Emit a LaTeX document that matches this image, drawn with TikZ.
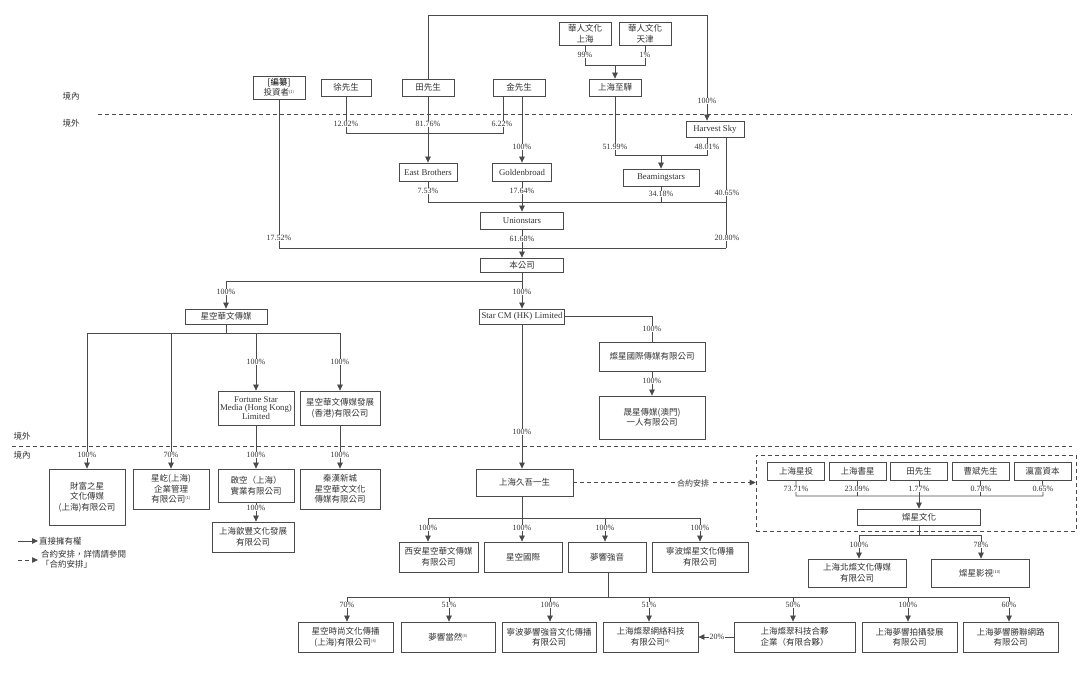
\documentclass[tikz,border=0pt]{standalone}
\usepackage{fontspec}
\setmainfont{Liberation Serif}
\newfontfamily\cjk{Noto Sans CJK TC}
\usetikzlibrary{arrows.meta}
\definecolor{lncol}{HTML}{4A4A4A}
\definecolor{txcol}{HTML}{333333}
\newcommand{\fnote}[1]{\textsuperscript{\fontsize{4}{4}\selectfont(#1)}}
\begin{document}
\begin{tikzpicture}[x=1pt,y=-1pt,
  bx/.style={draw=lncol, line width=0.8pt, text=txcol, align=center, inner sep=1pt,
    font=\cjk\fontsize{8.5}{10.5}\selectfont},
  en/.style={bx, font=\fontsize{8.8}{8.8}\selectfont},
  pc/.style={fill=white, text=txcol, inner sep=0.6pt, font=\fontsize{8}{8}\selectfont},
  rg/.style={text=txcol, inner sep=1pt, font=\cjk\fontsize{8.5}{10}\selectfont},
  wire/.style={draw=lncol, line width=0.75pt},
  ar/.style={wire, -{Triangle[length=6pt,width=5.5pt]}},
  da/.style={draw=lncol, line width=0.6pt, dash pattern=on 4pt off 3pt},
]
\fill[white] (0,0) rectangle (1080,686);

% ---------- region lines ----------
\draw[da] (98,114) -- (1072,114);
\draw[da] (12,446) -- (1072,446);
\node[rg] (rgA) at (71,96) {境內};
\node[rg] (rgB) at (71,123) {境外};
\node[rg] (rgC) at (22,436) {境外};
\node[rg] (rgD) at (22,455) {境內};

% ---------- top boxes ----------
\node[bx, minimum width=52, minimum height=23] (inv) at (279,87.5) {{\color{black}[編纂]}\\投資者\fnote{1}};
\node[bx, minimum width=50, minimum height=17] (xu) at (346,87.5) {徐先生};
\node[bx, minimum width=52, minimum height=17] (tian) at (428,87.5) {田先生};
\node[bx, minimum width=52, minimum height=17] (jin) at (519,87.5) {金先生};
\node[bx, minimum width=52, minimum height=23] (hrsh) at (585,33.5) {華人文化\\上海};
\node[bx, minimum width=52, minimum height=23] (hrtj) at (645,33.5) {華人文化\\天津};
\node[bx, minimum width=52, minimum height=17] (shzh) at (615,87.5) {上海至驊};
\node[en, minimum width=58, minimum height=16] (harvest) at (715,129) {Harvest Sky};
\node[en, minimum width=58, minimum height=18] (eastb) at (428,172) {East Brothers};
\node[en, minimum width=59, minimum height=18] (golden) at (522,172) {Goldenbroad};
\node[en, minimum width=76, minimum height=17] (beam) at (661,177.5) {Beamingstars};
\node[en, minimum width=83, minimum height=17] (union) at (522,220.5) {Unionstars};
\node[bx, minimum width=83, minimum height=14] (company) at (522,265) {本公司};

% ---------- offshore subsidiaries ----------
\node[bx, minimum width=82, minimum height=15] (xkhw) at (226,316.5) {星空華文傳媒};
\node[en, minimum width=85, minimum height=15] (starcm) at (522,316.5) {Star CM (HK) Limited};
\node[bx, minimum width=106, minimum height=29] (csintl) at (652,356.5) {燦星國際傳媒有限公司};
\node[bx, minimum width=106, minimum height=43] (sxmacau) at (652,417.5) {晟星傳媒(澳門)\\一人有限公司};
\node[en, minimum width=76, minimum height=34] (fortune) at (256,408) {Fortune Star\\Media (Hong Kong)\\Limited};
\node[bx, minimum width=80, minimum height=34] (xkhk) at (340,408) {星空華文傳媒發展\\(香港)有限公司};

% ---------- onshore, left ----------
\node[bx, minimum width=76, minimum height=56] (cfzx) at (87,497) {財富之星\\文化傳媒\\(上海)有限公司};
\node[bx, minimum width=76, minimum height=40] (xy) at (171,489) {星屹(上海)\\企業管理\\有限公司\fnote{1}};
\node[bx, minimum width=76, minimum height=33] (qk) at (256,485.5) {啟空（上海）\\實業有限公司};
\node[bx, minimum width=82, minimum height=30] (shxf) at (253,537) {上海歆豐文化發展\\有限公司};
\node[bx, minimum width=80, minimum height=40] (qhxc) at (340,489) {秦漢新城\\星空華文文化\\傳媒有限公司};

% ---------- onshore, centre ----------
\node[bx, minimum width=97, minimum height=27] (jiuwu) at (524.5,482.5) {上海久吾一生};
\node[bx, minimum width=79, minimum height=30] (xa) at (438.5,557) {西安星空華文傳媒\\有限公司};
\node[bx, minimum width=78, minimum height=30] (xkgj) at (523,557) {星空國際};
\node[bx, minimum width=78, minimum height=30] (mxqy) at (607,557) {夢響強音};
\node[bx, minimum width=96, minimum height=30] (nbcx) at (700,557) {寧波燦星文化傳播\\有限公司};

% ---------- bottom row ----------
\node[bx, minimum width=95, minimum height=30] (xs) at (345.5,637) {星空時尚文化傳播\\(上海)有限公司\fnote{4}};
\node[bx, minimum width=94, minimum height=30] (mxdr) at (448,637) {夢響當然\fnote{4}};
\node[bx, minimum width=94, minimum height=30] (nbmx) at (549,637) {寧波夢響強音文化傳播\\有限公司};
\node[bx, minimum width=95, minimum height=30] (shcc) at (650.5,637) {上海燦翠網絡科技\\有限公司\fnote{4}};
\node[bx, minimum width=121, minimum height=30] (hh) at (794.5,637) {上海燦翠科技合夥\\企業（有限合夥）};
\node[bx, minimum width=95, minimum height=30] (pp) at (909.5,637) {上海夢響拍攝發展\\有限公司};
\node[bx, minimum width=95, minimum height=30] (ms) at (1010.5,637) {上海夢響勝聯網路\\有限公司};

% ---------- VIE group ----------
\node[da, draw=lncol, minimum width=320, minimum height=76, inner sep=0] (grp) at (916,493) {};
\node[bx, minimum width=57, minimum height=18] (shxt) at (796,471) {上海星投};
\node[bx, minimum width=57, minimum height=18] (shss) at (857.5,471) {上海書星};
\node[bx, minimum width=57, minimum height=18] (tian2) at (919,471) {田先生};
\node[bx, minimum width=57, minimum height=18] (cao) at (980.5,471) {曹斌先生};
\node[bx, minimum width=57, minimum height=18] (ying) at (1042.5,471) {瀛富資本};
\node[bx, minimum width=123, minimum height=16] (csw) at (919,517) {燦星文化};
\node[bx, minimum width=98, minimum height=28] (bc) at (857,573) {上海北燦文化傳媒\\有限公司};
\node[bx, minimum width=98, minimum height=28] (csys) at (980,573) {燦星影視\fnote{10}};

% ---------- connectors: top ----------
\coordinate (tTop) at (428,15);
\coordinate (hTop) at (707,15);
\draw[wire] (tian.north) -- (tTop) -- (hTop);
\draw[ar] (hTop) -- (hTop |- harvest.north);

\coordinate (hj) at (615,65);
\draw[wire] (hrsh.south) |- (hj);
\draw[wire] (hrtj.south) |- (hj);
\draw[ar] (hj) -- (shzh.north);

\coordinate (xj) at (428,133);
\coordinate (jinA) at (503,133);
\draw[wire] (xu.south) |- (xj);
\draw[wire] (jinA |- jin.south) -- (jinA) -- (xj);
\draw[ar] (tian.south) -- (eastb.north);
\draw[ar] (golden.north |- jin.south) -- (golden.north);

\coordinate (hvA) at (707,155);
\coordinate (shzhJ) at (615,155);
\draw[wire] (shzh.south) -- (shzhJ) -- (hvA) -- (hvA |- harvest.south);
\draw[ar] (beam.north |- hvA) -- (beam.north);

\coordinate (hvB) at (726,202);
\coordinate (hvC) at (726,248);
\coordinate (ebJ) at (428,202);
\draw[wire] (eastb.south) -- (ebJ) -- (hvB) -- (hvB |- harvest.south);
\draw[wire] (beam.south) -- (beam.south |- ebJ);
\draw[ar] (golden.south) -- (union.north);
\draw[wire] (hvB) -- (hvC);
\coordinate (invJ) at (279,248);
\draw[wire] (inv.south) -- (invJ) -- (hvC);
\draw[ar] (union.south) -- (company.north);

\coordinate (cJ) at (226,281);
\draw[wire] (company.south) -- (company.south |- cJ) -- (cJ);
\draw[ar] (cJ) -- (xkhw.north);
\draw[ar] (company.south |- cJ) -- (starcm.north);

\coordinate (csJ) at (652,316.5);
\draw[wire] (starcm.east) -- (csJ) -- (csintl.north);
\draw[ar] (csintl.south) -- (sxmacau.north);

\coordinate (xkL) at (87,333);
\coordinate (xkR) at (340,333);
\draw[wire] (xkhw.south) -- (xkhw.south |- xkL);
\draw[wire] (xkL) -- (xkR);
\draw[ar] (xkL) -- (cfzx.north);
\draw[ar] (xkL -| xy.north) -- (xy.north);
\draw[ar] (xkL -| fortune.north) -- (fortune.north);
\draw[ar] (xkR) -- (xkhk.north);
\draw[ar] (fortune.south) -- (qk.north);
\draw[ar] (qk.south) -- (qk.south |- shxf.north);
\draw[ar] (xkhk.south) -- (qhxc.north);

% ---------- centre ----------
\draw[ar] (starcm.south) -- (starcm.south |- jiuwu.north);
\draw[da, -{Triangle[length=6pt,width=5.5pt]}] (jiuwu.east) -- (jiuwu.east -| grp.west);

\coordinate (r2L) at (428,518);
\coordinate (r2M) at (522,518);
\coordinate (r2C) at (605,518);
\coordinate (r2R) at (700,518);
\draw[wire] (r2M |- jiuwu.south) -- (r2M);
\draw[wire] (r2L) -- (r2R);
\draw[ar] (r2L) -- (r2L |- xa.north);
\draw[ar] (r2M) -- (r2M |- xkgj.north);
\draw[ar] (r2C) -- (r2C |- mxqy.north);
\draw[ar] (r2R) -- (nbcx.north);

\coordinate (mxJ) at (608,597);
\coordinate (d1) at (347,597);
\coordinate (d2) at (449,597);
\coordinate (d3) at (550,597);
\coordinate (d4) at (649,597);
\coordinate (d5) at (793,597);
\coordinate (d6) at (908,597);
\coordinate (d7) at (1009,597);
\draw[wire] (mxJ |- mxqy.south) -- (mxJ);
\draw[wire] (d1) -- (d7);
\draw[ar] (d1) -- (d1 |- xs.north);
\draw[ar] (d2) -- (d2 |- mxdr.north);
\draw[ar] (d3) -- (d3 |- nbmx.north);
\draw[ar] (d4) -- (d4 |- shcc.north);
\draw[ar] (d5) -- (d5 |- hh.north);
\draw[ar] (d6) -- (d6 |- pp.north);
\draw[ar] (d7) -- (d7 |- ms.north);
\draw[ar] (hh.west) -- (shcc.east);

% ---------- VIE connectors ----------
\coordinate (oL) at (796,496);
\coordinate (oR) at (1043,496);
\draw[wire] (shxt.south) -- (oL) -- (oR) -- (ying.south);
\draw[wire] (shss.south) -- (shss.south |- oL);
\draw[wire] (cao.south) -- (cao.south |- oL);
\draw[ar] (tian2.south) -- (csw.north);
\coordinate (cwL) at (859,535);
\coordinate (cwR) at (981,535);
\draw[wire] (csw.south) -- (csw.south |- cwL);
\draw[wire] (cwL) -- (cwR);
\draw[ar] (cwL) -- (cwL |- bc.north);
\draw[ar] (cwR) -- (cwR |- csys.north);

% ---------- percentage labels ----------
\node[pc] (p01) at (707,101) {100\%};
\node[pc] (p02) at (585,55) {99\%};
\node[pc] (p03) at (645,55) {1\%};
\node[pc] (p04) at (346,124) {12.02\%};
\node[pc] (p05) at (428,124) {81.76\%};
\node[pc] (p06) at (502,124) {6.22\%};
\node[pc] (p07) at (522,147) {100\%};
\node[pc] (p08) at (615,147) {51.99\%};
\node[pc] (p09) at (707,147) {48.01\%};
\node[pc] (p10) at (428,191) {7.53\%};
\node[pc] (p11) at (522,191) {17.64\%};
\node[pc] (p12) at (661,194) {34.18\%};
\node[pc] (p13) at (727,193) {40.65\%};
\node[pc] (p14) at (279,238) {17.52\%};
\node[pc] (p15) at (522,239) {61.68\%};
\node[pc] (p16) at (727,238) {20.80\%};
\node[pc] (p17) at (226,292) {100\%};
\node[pc] (p18) at (522,292) {100\%};
\node[pc] (p19) at (652,329) {100\%};
\node[pc] (p20) at (652,381) {100\%};
\node[pc] (p21) at (256,362) {100\%};
\node[pc] (p22) at (340,362) {100\%};
\node[pc] (p23) at (87,455) {100\%};
\node[pc] (p24) at (171,455) {70\%};
\node[pc] (p25) at (256,455) {100\%};
\node[pc] (p26) at (340,455) {100\%};
\node[pc] (p27) at (256,508) {100\%};
\node[pc] (p28) at (522,432) {100\%};
\node[pc] (p29) at (796,489) {73.71\%};
\node[pc] (p30) at (857,489) {23.09\%};
\node[pc] (p31) at (919,489) {1.77\%};
\node[pc] (p32) at (981,489) {0.78\%};
\node[pc] (p33) at (1043,489) {0.65\%};
\node[pc] (p34) at (859,545) {100\%};
\node[pc] (p35) at (981,545) {78\%};
\node[pc] (p36) at (428,528) {100\%};
\node[pc] (p37) at (522,528) {100\%};
\node[pc] (p38) at (605,528) {100\%};
\node[pc] (p39) at (700,528) {100\%};
\node[pc] (p40) at (347,605) {70\%};
\node[pc] (p41) at (449,605) {51\%};
\node[pc] (p42) at (550,605) {100\%};
\node[pc] (p43) at (649,605) {51\%};
\node[pc] (p44) at (793,605) {50\%};
\node[pc] (p45) at (908,605) {100\%};
\node[pc] (p46) at (1009,605) {60\%};
\node[pc] (p47) at (717,637) {20\%};
\node[pc, font=\cjk\fontsize{8}{9}\selectfont] (p48) at (693,483) {合約安排};

% ---------- legend ----------
\coordinate (lgA1) at (18,541);
\coordinate (lgA2) at (38,541);
\coordinate (lgB1) at (18,560);
\coordinate (lgB2) at (38,560);
\draw[ar] (lgA1) -- (lgA2);
\draw[da, -{Triangle[length=6pt,width=5.5pt]}] (lgB1) -- (lgB2);
\node[rg, anchor=west] (lgA) at (38,541) {直接擁有權};
\node[rg, anchor=west, align=left] (lgB) at (40,559) {合約安排，詳情請參閱\\「合約安排」};
\end{tikzpicture}
\end{document}
